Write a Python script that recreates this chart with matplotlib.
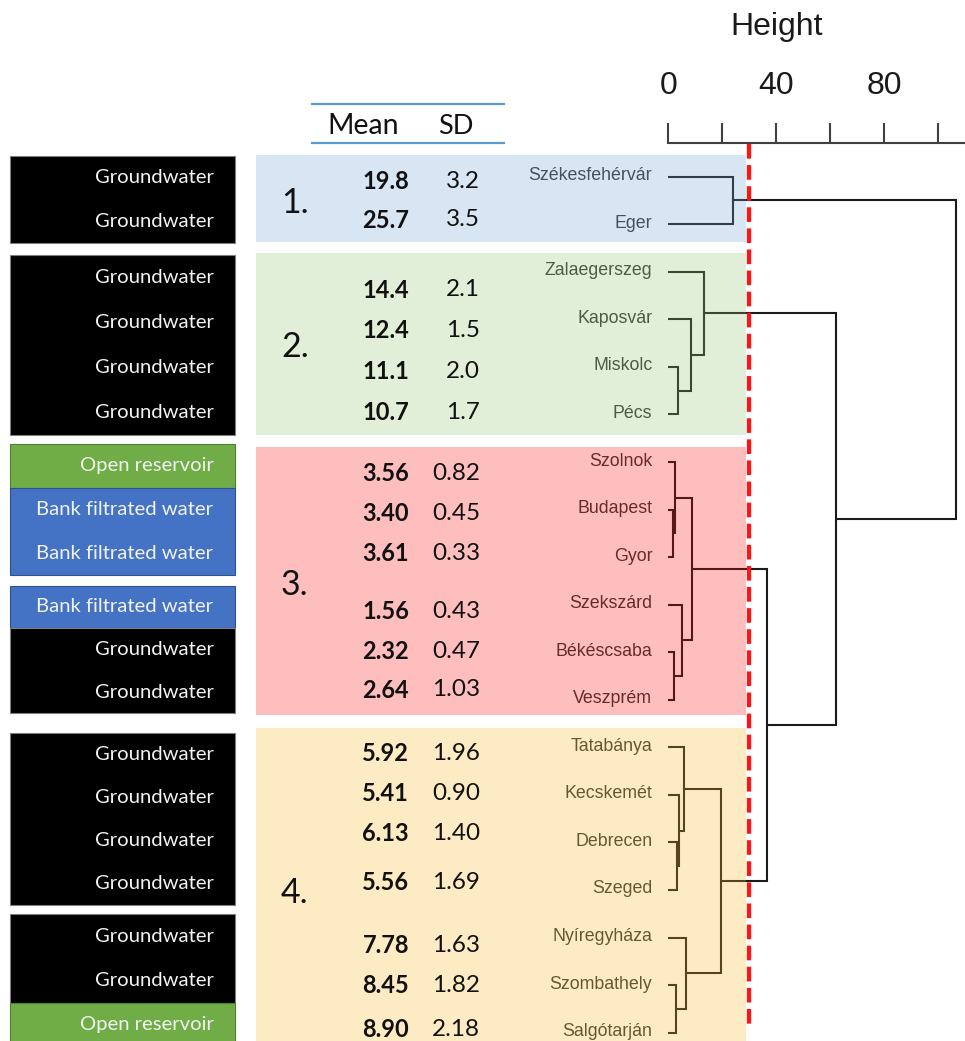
import numpy as np
import matplotlib
matplotlib.use("Agg")
import matplotlib.pyplot as plt
import matplotlib.colors as mcolors
from matplotlib.patches import Rectangle
from matplotlib.transforms import ScaledTranslation

# ---------------------------------------------------------------- data
# dendrogram leaf order, top to bottom
cities = ["Székesfehérvár", "Eger", "Zalaegerszeg", "Kaposvár", "Miskolc", "Pécs",
          "Szolnok", "Budapest", "Gyor", "Szekszárd", "Békéscsaba", "Veszprém",
          "Tatabánya", "Kecskemét", "Debrecen", "Szeged", "Nyíregyháza",
          "Szombathely", "Salgótarján"]
water_source = ["Groundwater", "Groundwater",
                "Groundwater", "Groundwater", "Groundwater", "Groundwater",
                "Open reservoir", "Bank filtrated water", "Bank filtrated water",
                "Bank filtrated water", "Groundwater", "Groundwater",
                "Groundwater", "Groundwater", "Groundwater", "Groundwater",
                "Groundwater", "Groundwater", "Open reservoir"]
mean_values = [19.8, 25.7, 14.4, 12.4, 11.1, 10.7,
               3.56, 3.40, 3.61, 1.56, 2.32, 2.64,
               5.92, 5.41, 6.13, 5.56, 7.78, 8.45, 8.90]
sd_values = [3.2, 3.5, 2.1, 1.5, 2.0, 1.7,
             0.82, 0.45, 0.33, 0.43, 0.47, 1.03,
             1.96, 0.90, 1.40, 1.69, 1.63, 1.82, 2.18]
cluster_labels = ["1.", "2.", "3.", "4."]
cluster_members = [[0, 1], [2, 3, 4, 5], [6, 7, 8, 9, 10, 11],
                   [12, 13, 14, 15, 16, 17, 18]]
cluster_decimals = [1, 1, 2, 2]

# agglomeration steps: (child a, child b, height); ids >= 19 are earlier steps
merges = [
    (7, 8, 1.9),      # 19
    (6, 19, 2.5),     # 20
    (10, 11, 2.2),    # 21
    (9, 21, 5.0),     # 22
    (20, 22, 8.9),    # 23
    (4, 5, 3.7),      # 24
    (3, 24, 8.3),     # 25
    (2, 25, 13.3),    # 26
    (0, 1, 24.0),     # 27
    (14, 15, 3.1),    # 28
    (13, 28, 3.8),    # 29
    (12, 29, 5.9),    # 30
    (17, 18, 2.7),    # 31
    (16, 31, 6.6),    # 32
    (30, 32, 19.5),   # 33
    (23, 33, 36.7),   # 34
    (26, 34, 62.0),   # 35
    (27, 35, 106.6),  # 36
]
cut_height = 29.8
height_ticks = [0, 20, 40, 60, 80, 100]
height_ticklabels = ["0", "", "40", "", "80", ""]

# ---------------------------------------------------------------- layout (pixels)
W, H = 965, 1041
LEAF0, LEAF_STEP = 176.7, 47.55
DEND_LEFT, DEND_TOP = 668.3, 143
PX_PER_UNIT = 2.7

source_boxes = [(156, 242.7), (255, 435), (444, 575), (585.7, 713.3),
                (733.3, 905), (914, 1047)]
source_box_rows = [[0, 1], [2, 3, 4, 5], [6, 7, 8], [9, 10, 11],
                   [12, 13, 14, 15], [16, 17, 18]]
source_style = {"Groundwater": ("#000000", "#7f7f7f"),
                "Open reservoir": ("#70ad47", "#507e32"),
                "Bank filtrated water": ("#4472c4", "#2f528f")}

panel_spans = [(155, 241.7), (253.3, 435), (447.3, 715), (728.3, 1041)]
panel_look = ["#d9e6f4", "#e2efd9", "#ffbfbf", "#fdecc4"]
panel_alpha = 0.27
cluster_label_y = [203, 347, 585, 893]
mean_row_y = [181.5, 220,
              290, 330.7, 371.7, 412.7,
              473.3, 513.3, 553.3, 611.7, 651.7, 690,
              753.3, 793.3, 833.3, 882.3, 945.5, 985.5, 1029.5]

LINE = "#1a1a1a"
CALI = ["Lato", "DejaVu Sans"]
ARIAL = ["Liberation Sans", "DejaVu Sans"]

fig = plt.figure(figsize=(W / 100, H / 100), dpi=100)

# ---------------------------------------------------------------- dendrogram
ax = fig.add_axes([DEND_LEFT / W, 0, 1 - DEND_LEFT / W, 1 - DEND_TOP / H])
ax.patch.set_visible(False)
n = len(cities)
ypos = {i: float(i) for i in range(n)}
hpos = {i: 0.0 for i in range(n)}
for k, (a, b, h) in enumerate(merges):
    ax.plot([hpos[a], h, h, hpos[b]], [ypos[a], ypos[a], ypos[b], ypos[b]],
            color=LINE, lw=1.5, solid_joinstyle="miter", solid_capstyle="butt",
            clip_on=False)
    ypos[n + k] = (ypos[a] + ypos[b]) / 2
    hpos[n + k] = h

ax.set_xlim(0, (W - DEND_LEFT) / PX_PER_UNIT)
ax.set_ylim((H - LEAF0) / LEAF_STEP, (DEND_TOP - LEAF0) / LEAF_STEP)
ax.vlines(cut_height, (DEND_TOP + 1 - LEAF0) / LEAF_STEP, (1030 - LEAF0) / LEAF_STEP,
          color="#ff1414", lw=3.1, linestyles=(0, (3.4, 1.5)))

ax.set_yticks(range(n))
ax.set_yticklabels(cities, fontsize=12.8, family=ARIAL, color="#333333")
ax.tick_params(axis="y", length=0, pad=11.5)
# leaf names sit a touch above their branch
lift = ScaledTranslation(0, 3 / 100, fig.dpi_scale_trans)
for lbl in ax.get_yticklabels():
    lbl.set_transform(lbl.get_transform() + lift)
ax.xaxis.tick_top()
ax.set_xticks(height_ticks)
ax.set_xticklabels(height_ticklabels, fontsize=23, family=ARIAL, color="#1a1a1a")
ax.tick_params(axis="x", direction="out", length=14.4, width=1.5, color="#404040",
               pad=16)
for side in ["left", "right", "bottom"]:
    ax.spines[side].set_visible(False)
ax.spines["top"].set_color("#404040")
ax.spines["top"].set_linewidth(1.5)
fig.text(776.7 / W, 1 - 27 / H, "Height", ha="center", va="center",
         fontsize=23, family=ARIAL, color="#1a1a1a")

# ---------------------------------------------------------------- overlay: panels, table, sources
ov = fig.add_axes([0, 0, 1, 1])
ov.set_xlim(0, W)
ov.set_ylim(H, 0)
ov.axis("off")
ov.patch.set_visible(False)

for (top, bot), look in zip(panel_spans, panel_look):
    rgb = np.array(mcolors.to_rgb(look))
    fill = np.clip((rgb - (1 - panel_alpha)) / panel_alpha, 0, 1)
    ov.add_patch(Rectangle((256, top), 746 - 256, bot - top, facecolor=fill,
                           alpha=panel_alpha, edgecolor="none", zorder=1))

# header
ov.plot([311.7, 504], [104, 104], color="#5b9bd5", lw=1.6, zorder=3)
ov.plot([311.7, 504], [142.7, 142.7], color="#5b9bd5", lw=1.6, zorder=3)
ov.text(363, 126, "Mean", ha="center", va="center", fontsize=20.5, family=CALI,
        color="#111111", zorder=4)
ov.text(455.5, 126, "SD", ha="center", va="center", fontsize=19.5, family=CALI,
        color="#111111", zorder=4)

for ci, members in enumerate(cluster_members):
    ov.text(281, cluster_label_y[ci], cluster_labels[ci], ha="left", va="center",
            fontsize=24.5, family=CALI, color="#111111", zorder=4)
    d = cluster_decimals[ci]
    for i in members:
        ov.text(409, mean_row_y[i], f"{mean_values[i]:.{d}f}", ha="right",
                va="center", fontsize=17, family=CALI, weight="bold",
                color="#111111", zorder=4)
        ov.text(480, mean_row_y[i], f"{sd_values[i]:.{d}f}", ha="right",
                va="center", fontsize=17.5, family=CALI, color="#111111", zorder=4)

# water source column
for (top, bot), rows in zip(source_boxes, source_box_rows):
    step = (bot - top) / len(rows)
    # group consecutive rows of the same source into one cell
    groups = []
    for j, r in enumerate(rows):
        if groups and groups[-1][0] == water_source[r]:
            groups[-1][2] = j + 1
        else:
            groups.append([water_source[r], j, j + 1])
    for src, j0, j1 in groups:
        face, edge = source_style[src]
        ov.add_patch(Rectangle((10, top + j0 * step), 225.3, (j1 - j0) * step,
                               facecolor=face, edgecolor=edge, lw=0.8, zorder=2))
    for j, r in enumerate(rows):
        ov.text(213.5, top + (j + 0.5) * step, water_source[r], ha="right",
                va="center", fontsize=14.6, family=CALI, color="#f2f2f2", zorder=4)

fig.savefig("out.png", dpi=100)
